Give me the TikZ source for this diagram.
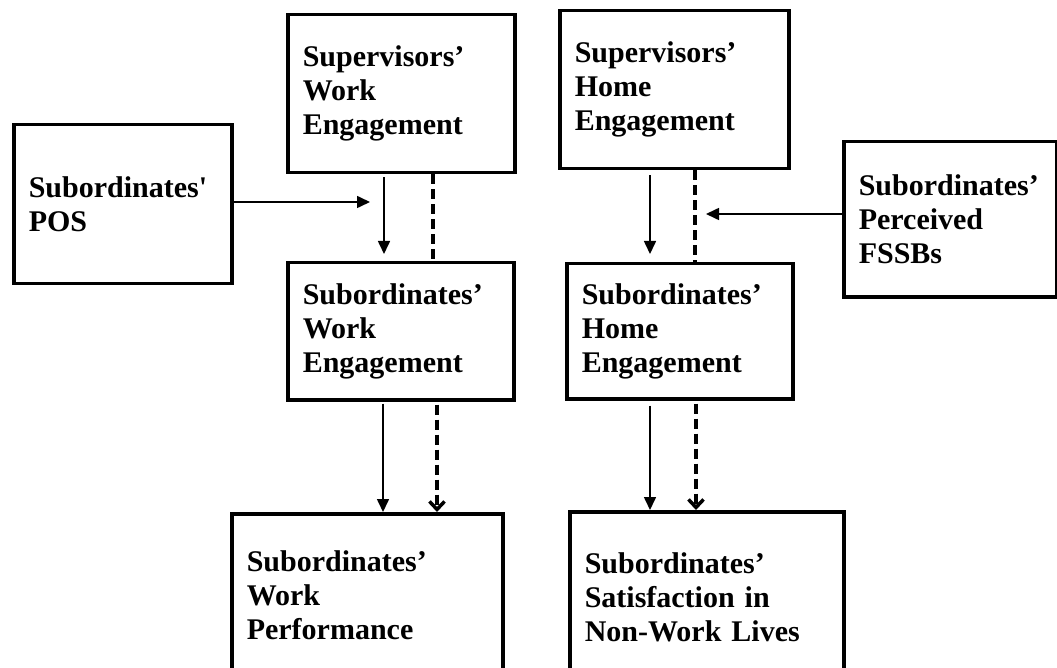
\documentclass[tikz,border=0pt]{standalone}
\usepackage{fontspec}
\setmainfont{Liberation Serif}
\usetikzlibrary{arrows.meta}
\tikzset{
  box/.style={draw, line width=3.5pt, anchor=north west, inner xsep=15pt, inner ysep=0pt,
    align=left, font=\fontsize{30}{34}\selectfont\bfseries},
  solidarrow/.style={line width=1.6pt, -{Triangle[length=13pt,width=12pt]}},
  dashline/.style={line width=3.5pt, dash pattern=on 10pt off 5pt},
  dasharrow/.style={dashline, -{Straight Barb[length=8pt,width=15pt,line width=3.5pt]}}
}
\begin{document}
\begin{tikzpicture}[x=1pt,y=-1pt]
\clip (0,0) rectangle (1057,668);
\fill[white] (0,0) rectangle (1057,668);
% boxes
\node[box, text width=197pt, minimum height=158pt] (A) at (286,13) {Supervisors’\\Work\\Engagement};
\node[box, text width=199pt, minimum height=158pt] (B) at (558,9) {Supervisors’\\Home\\Engagement};
\node[box, text width=188pt, minimum height=159pt] (P) at (12,123) {Subordinates\textquotesingle\\POS};
\node[box, text width=183pt, minimum height=155pt] (F) at (842,140) {Subordinates’\\Perceived\\FSSBs};
\node[box, text width=196pt, minimum height=137pt] (C) at (286,261) {Subordinates’\\Work\\Engagement};
\node[box, text width=196pt, minimum height=135pt] (D) at (565,262) {Subordinates’\\Home\\Engagement};
\node[box, text width=241pt, minimum height=162pt] (E) at (230,512) {Subordinates’\\Work\\Performance};
\node[box, text width=244pt, minimum height=172pt] (G) at (568,510) {Subordinates’\\Satisfaction in\\Non-Work Lives};
% helper coordinates
\coordinate (p1) at (370,202);
\coordinate (f1) at (706,214);
\coordinate (s1) at (384,0);
\coordinate (d1) at (433,0);
\coordinate (s2) at (650,0);
\coordinate (d2) at (695,0);
\coordinate (s3) at (383,0);
\coordinate (d3) at (437,0);
\coordinate (s4) at (650,0);
\coordinate (d4) at (696,0);
% moderator arrows
\draw[solidarrow] (p1 -| P.east) -- (p1);
\draw[solidarrow] (f1 -| F.west) -- (f1);
% supervisor to subordinate
\draw[solidarrow] ([yshift=-3pt]A.south -| s1) -- ([yshift=7pt]C.north -| s1);
\draw[dashline] (A.south -| d1) -- (C.north -| d1);
\draw[solidarrow] ([yshift=-5pt]B.south -| s2) -- ([yshift=8pt]D.north -| s2);
\draw[dashline] (B.south -| d2) -- (D.north -| d2);
% subordinate to outcomes
\draw[solidarrow] ([yshift=-2pt]C.south -| s3) -- (E.north -| s3);
\draw[dasharrow] ([yshift=-3pt]C.south -| d3) -- (E.north -| d3);
\draw[solidarrow] ([yshift=-5pt]D.south -| s4) -- (G.north -| s4);
\draw[dasharrow] ([yshift=-3pt]D.south -| d4) -- (G.north -| d4);
\end{tikzpicture}
\end{document}
